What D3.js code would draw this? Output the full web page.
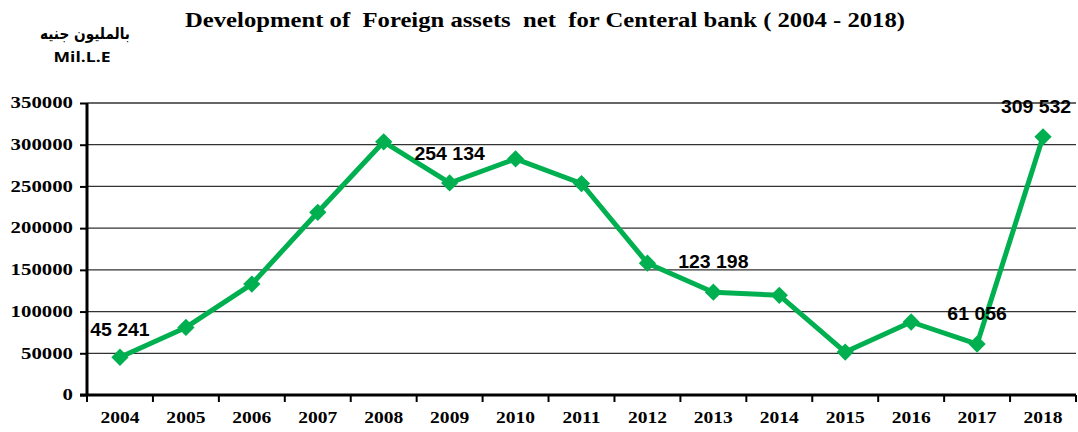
<!DOCTYPE html>
<html>
<head>
<meta charset="utf-8">
<script src="https://cdn.jsdelivr.net/npm/d3@7"></script>
<style>
  body { margin: 0; background: #fff; }
  svg { display: block; }
</style>
</head>
<body>
<svg id="chart" width="1078" height="432"></svg>
<script>
// chart data
const years = ["2004", "2005", "2006", "2007", "2008", "2009", "2010", "2011",
  "2012", "2013", "2014", "2015", "2016", "2017", "2018"];
const assets = [45241, 81000, 133000, 219000, 303500, 254134, 283000, 253500,
  158000, 123198, 119500, 51500, 87500, 61056, 309532];
const yTicks = [0, 50000, 100000, 150000, 200000, 250000, 300000, 350000];
// which points get a value label
const labelled = ["2004", "2009", "2013", "2017", "2018"];

const svg = d3.select("#chart");
const margin = { left: 87, right: 1076, top: 103, bottom: 395 };
const serif = "'Liberation Serif', 'Times New Roman', serif";
const sans = "'Liberation Sans', Arial, sans-serif";

const x = d3.scaleBand().domain(years).range([margin.left, margin.right]);
const y = d3.scaleLinear().domain([0, 350000]).range([margin.bottom, margin.top]);

// the reference text is a little wide, stretch glyphs horizontally
function stretch(sel, sx) {
  sel.each(function () {
    const w = this.getComputedTextLength();
    d3.select(this).attr("textLength", w * sx).attr("lengthAdjust", "spacingAndGlyphs");
  });
}

// title
svg.append("text")
  .attr("x", 545).attr("y", 27)
  .attr("text-anchor", "middle")
  .style("font-family", serif)
  .style("font-weight", "bold").style("font-size", "22px")
  .text("Development of\u00a0 Foreign assets\u00a0 net\u00a0 for Centeral bank ( 2004 - 2018)")
  .attr("textLength", 720).attr("lengthAdjust", "spacingAndGlyphs");

// unit label
svg.append("text")
  .attr("x", 85).attr("y", 39)
  .attr("text-anchor", "middle")
  .style("font-family", "'DejaVu Sans', 'Noto Sans', sans-serif")
  .style("font-weight", "bold").style("font-size", "16px")
  .text("بالمليون جنيه")
  .attr("textLength", 90).attr("lengthAdjust", "spacingAndGlyphs");
svg.append("text")
  .attr("x", 82).attr("y", 62)
  .attr("text-anchor", "middle")
  .style("font-family", "'Open Sans', 'DejaVu Sans', sans-serif")
  .style("font-weight", "bold").style("font-size", "14px")
  .text("Mil.L.E")
  .attr("textLength", 57).attr("lengthAdjust", "spacingAndGlyphs");

// gridlines
svg.append("g")
  .selectAll("line")
  .data(yTicks.filter(d => d > 0))
  .join("line")
  .attr("x1", margin.left).attr("x2", margin.right)
  .attr("y1", d => y(d)).attr("y2", d => y(d))
  .attr("stroke", "#333").attr("stroke-width", 1.3);

// y axis
const yAxis = svg.append("g")
  .attr("transform", `translate(${margin.left},0)`)
  .call(d3.axisLeft(y).tickValues(yTicks).tickSize(7).tickPadding(7).tickFormat(d3.format("d")));
yAxis.select(".domain").attr("stroke", "#000").attr("stroke-width", 3)
  .attr("d", `M0,${margin.top}V${margin.bottom}`);
yAxis.selectAll(".tick line").attr("stroke-width", 2);
yAxis.selectAll("text")
  .attr("dy", "0.3em")
  .style("font-family", serif)
  .style("font-weight", "bold").style("font-size", "16px").attr("fill", "#000")
  .call(stretch, 1.3);

// x axis, ticks at band boundaries
const xAxis = svg.append("g")
  .attr("transform", `translate(0,${margin.bottom})`);
xAxis.append("line")
  .attr("x1", margin.left - 7).attr("x2", margin.right)
  .attr("stroke", "#000").attr("stroke-width", 3);
xAxis.selectAll(".btick")
  .data(years.concat(["end"]))
  .join("line")
  .attr("class", "btick")
  .attr("x1", (d, i) => margin.left + i * x.step())
  .attr("x2", (d, i) => margin.left + i * x.step())
  .attr("y1", 0).attr("y2", 7)
  .attr("stroke", "#000").attr("stroke-width", 2);
xAxis.selectAll(".xlabel")
  .data(years)
  .join("text")
  .attr("class", "xlabel")
  .attr("x", d => x(d) + x.bandwidth() / 2)
  .attr("y", 28)
  .attr("text-anchor", "middle")
  .style("font-family", serif)
  .style("font-weight", "bold").style("font-size", "16px")
  .text(d => d)
  .call(stretch, 1.22);

// line
const cx = d => x(d) + x.bandwidth() / 2;
const line = d3.line()
  .x((d, i) => cx(years[i]))
  .y(d => y(d));
svg.append("path")
  .datum(assets)
  .attr("d", line)
  .attr("fill", "none")
  .attr("stroke", "#00B050").attr("stroke-width", 5)
  .attr("stroke-linejoin", "round");

// diamond markers
svg.append("g")
  .selectAll("path")
  .data(assets)
  .join("path")
  .attr("transform", (d, i) => `translate(${cx(years[i])},${y(d)})`)
  .attr("d", d3.symbol(d3.symbolDiamond2, 190))
  .attr("fill", "#00B050");

// value labels
const fmt = v => {
  const s = String(v);
  return s.slice(0, s.length - 3) + " " + s.slice(-3);
};
const labelShift = { "2004": [0, -21], "2009": [0, -23], "2013": [0, -24],
  "2017": [0, -24], "2018": [-7, -24] };
svg.append("g")
  .selectAll("text")
  .data(labelled)
  .join("text")
  .attr("x", d => cx(d) + labelShift[d][0])
  .attr("y", d => y(assets[years.indexOf(d)]) + labelShift[d][1])
  .attr("text-anchor", "middle")
  .style("font-family", sans)
  .style("font-weight", "bold").style("font-size", "18px")
  .text(d => fmt(assets[years.indexOf(d)]))
  .call(stretch, 1.08);
</script>
</body>
</html>
